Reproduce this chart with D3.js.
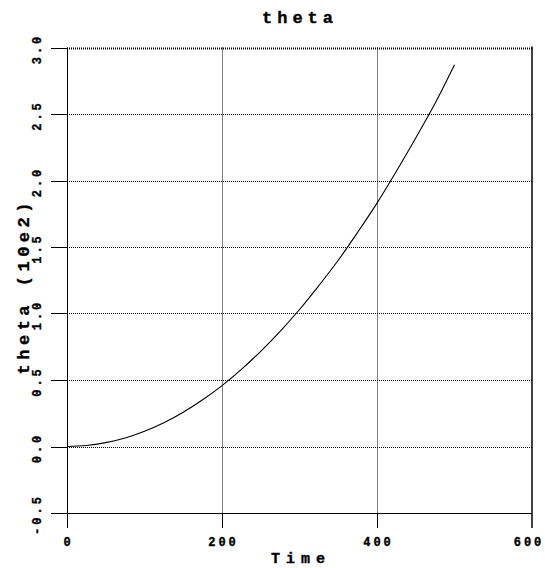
<!DOCTYPE html>
<html>
<head>
<meta charset="utf-8">
<script src="https://cdn.jsdelivr.net/npm/d3@7.9.0/dist/d3.min.js"></script>
<style>
  body { margin: 0; background: #fff; }
  text { font-family: "Liberation Mono", "Courier New", monospace; font-weight: bold; fill: #000; stroke: #000; stroke-width: 0.35px; }
</style>
</head>
<body>
<div id="viz"></div>
<script>
// values
const time = [0, 25, 50, 75, 100, 125, 150, 175, 200, 225, 250, 275, 300, 325, 350, 375, 400, 425, 450, 475, 500];
const theta = [0, 0.007, 0.029, 0.064, 0.115, 0.179, 0.258, 0.351, 0.458, 0.58, 0.716, 0.866, 1.03, 1.21, 1.40, 1.61, 1.83, 2.07, 2.32, 2.58, 2.87];
const xTicks = [0, 200, 400, 600];
const yTicks = [-0.5, 0.0, 0.5, 1.0, 1.5, 2.0, 2.5, 3.0];

const width = 545, height = 568;
const margin = {top: 47.5, right: 13, bottom: 55, left: 67};

const svg = d3.select("#viz")
  .append("svg")
  .attr("width", width)
  .attr("height", height);

const x = d3.scaleLinear().domain([0, 600]).range([margin.left, width - margin.right]);
const y = d3.scaleLinear().domain([-0.5, 3.0]).range([height - margin.bottom, margin.top]);

const x0 = x(0), x1 = x(600), y0 = y(-0.5), y1 = y(3.0);

// dotted grid
svg.append("g")
  .selectAll("line")
  .data(yTicks.filter(d => d > -0.5))
  .join("line")
  .attr("x1", x0).attr("x2", x1)
  .attr("y1", d => Math.round(y(d)) + 0.5).attr("y2", d => Math.round(y(d)) + 0.5)
  .attr("stroke", "#000")
  .attr("stroke-width", d => d === 3.0 ? 2 : 1)
  .attr("stroke-dasharray", "1,1");

svg.append("g")
  .selectAll("line")
  .data(xTicks.filter(d => d > 0 && d < 600))
  .join("line")
  .attr("x1", d => Math.round(x(d)) + 0.5).attr("x2", d => Math.round(x(d)) + 0.5)
  .attr("y1", y1).attr("y2", y0)
  .attr("stroke", "#000")
  .attr("stroke-dasharray", "1,1");

// frame: left, bottom, right
svg.append("line")
  .attr("x1", Math.round(x0) + 0.5).attr("x2", Math.round(x0) + 0.5)
  .attr("y1", y1).attr("y2", y0 + 15)
  .attr("stroke", "#000");
svg.append("line")
  .attr("x1", x0).attr("x2", x1)
  .attr("y1", Math.round(y0) + 0.5).attr("y2", Math.round(y0) + 0.5)
  .attr("stroke", "#000");
svg.append("line")
  .attr("x1", x1).attr("x2", x1)
  .attr("y1", y1 - 1).attr("y2", y0 + 15)
  .attr("stroke", "#000")
  .attr("stroke-width", 1.5);

// y ticks and labels
const yAxis = svg.append("g");
yAxis.selectAll("line")
  .data(yTicks)
  .join("line")
  .attr("x1", x0 - 16).attr("x2", x0)
  .attr("y1", d => Math.round(y(d)) + 0.5).attr("y2", d => Math.round(y(d)) + 0.5)
  .attr("stroke", "#000");
yAxis.selectAll("text")
  .data(yTicks)
  .join("text")
  .attr("transform", d => `translate(41,${y(d) + 1.5}) rotate(-90)`)
  .attr("text-anchor", "middle")
  .attr("font-size", "12px")
  .attr("letter-spacing", "3px")
  .text(d => d3.format(".1f")(d).replace("\u2212", "-"));

// x ticks and labels
const xAxis = svg.append("g");
xAxis.selectAll("line")
  .data(xTicks.filter(d => d > 0 && d < 600))
  .join("line")
  .attr("x1", d => Math.round(x(d)) + 0.5).attr("x2", d => Math.round(x(d)) + 0.5)
  .attr("y1", y0).attr("y2", y0 + 15)
  .attr("stroke", "#000");
xAxis.selectAll("text")
  .data(xTicks)
  .join("text")
  .attr("x", d => Math.min(x(d) + 1.5, 529))
  .attr("y", 546)
  .attr("text-anchor", "middle")
  .attr("font-size", "12px")
  .attr("letter-spacing", "3px")
  .text(d => d);

// curve
svg.append("path")
  .datum(time.map((t, i) => [t, theta[i]]))
  .attr("fill", "none")
  .attr("stroke", "#000")
  .attr("stroke-width", 1.1)
  .attr("d", d3.line().x(d => x(d[0])).y(d => y(d[1])).curve(d3.curveMonotoneX));

// titles
svg.append("text")
  .attr("x", 300).attr("y", 22.5)
  .attr("text-anchor", "middle")
  .attr("font-size", "17px")
  .attr("letter-spacing", "5px")
  .text("theta");

svg.append("text")
  .attr("x", 301).attr("y", 563)
  .attr("text-anchor", "middle")
  .attr("font-size", "15px")
  .attr("letter-spacing", "6px")
  .text("Time");

svg.append("text")
  .attr("transform", `translate(29,${(y0 + y1) / 2 + 6}) rotate(-90)`)
  .attr("text-anchor", "middle")
  .attr("font-size", "17px")
  .attr("letter-spacing", "4.5px")
  .text("theta (10e2)");
</script>
</body>
</html>
